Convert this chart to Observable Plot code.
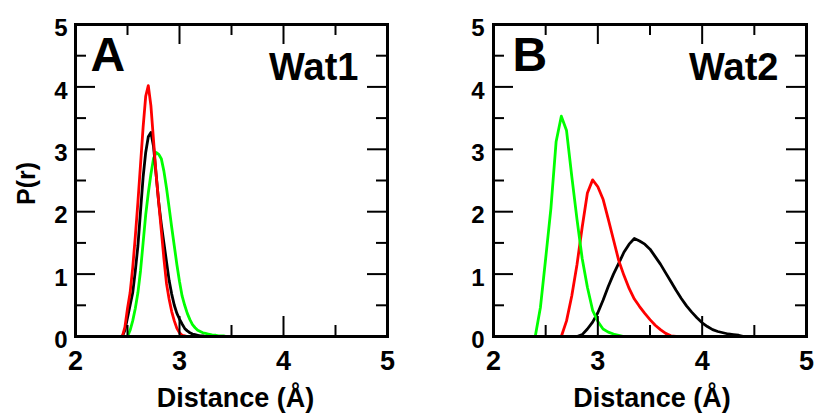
<!DOCTYPE html>
<html><head><meta charset="utf-8">
<script src="https://cdn.jsdelivr.net/npm/d3@7"></script>
<script src="https://cdn.jsdelivr.net/npm/@observablehq/plot@0.6"></script>
<style>
html,body{margin:0;padding:0;background:#fff;}
#wrap{display:flex;width:814px;height:413px;overflow:hidden;}
svg{display:block}
</style></head><body><div id="wrap"></div>
<script>
// Tick values
const xTicks = [2, 3, 4, 5];
const xMinor = [2.5, 3.5, 4.5];
const yTicks = [0, 1, 2, 3, 4, 5];
const yMinor = [0.5, 1.5, 2.5, 3.5, 4.5];

// Panel A (Wat1) distance grid and P(r) values
const distA = [2.450, 2.475, 2.500, 2.525, 2.550, 2.575, 2.600, 2.625, 2.650, 2.675,
  2.700, 2.725, 2.750, 2.775, 2.800, 2.825, 2.850, 2.875, 2.900, 2.925,
  2.950, 2.975, 3.000, 3.025, 3.050, 3.075, 3.100, 3.125, 3.150, 3.175,
  3.200, 3.225, 3.250, 3.275, 3.300, 3.325, 3.350, 3.375, 3.400, 3.425, 3.450];
const redA = [0, 0.15, 0.45, 0.7, 1.1, 1.6, 2.15, 2.75, 3.35, 3.85,
  4.02, 3.7, 3.15, 2.6, 2.15, 1.7, 1.25, 0.85, 0.6, 0.4,
  0.25, 0.13, 0.06, 0.02, 0.01, 0, null, null, null, null,
  null, null, null, null, null, null, null, null, null, null, null];
const blackA = [0, 0.1, 0.3, 0.5, 0.7, 1.05, 1.45, 2.0, 2.55, 2.95,
  3.2, 3.27, 3.05, 2.6, 2.15, 1.8, 1.5, 1.2, 0.9, 0.68,
  0.5, 0.37, 0.28, 0.2, 0.13, 0.09, 0.06, 0.04, 0.03, 0.02,
  0.01, 0.01, 0, null, null, null, null, null, null, null, null];
const greenA = [null, null, 0, 0.1, 0.25, 0.45, 0.7, 1.05, 1.5, 1.95,
  2.3, 2.6, 2.85, 2.95, 2.92, 2.85, 2.65, 2.38, 2.07, 1.75,
  1.45, 1.15, 0.88, 0.65, 0.5, 0.37, 0.27, 0.19, 0.14, 0.1,
  0.08, 0.06, 0.05, 0.04, 0.03, 0.02, 0.02, 0.01, 0.01, 0.01, 0];

// Panel B (Wat2) distance grid and P(r) values
const distB = [2.35, 2.40, 2.45, 2.50, 2.55, 2.60, 2.65, 2.70, 2.75, 2.80,
  2.85, 2.90, 2.95, 3.00, 3.05, 3.10, 3.15, 3.20, 3.25, 3.30,
  3.35, 3.40, 3.45, 3.50, 3.55, 3.60, 3.65, 3.70, 3.75, 3.80,
  3.85, 3.90, 3.95, 4.00, 4.05, 4.10, 4.15, 4.20, 4.25, 4.30, 4.35, 4.40];
const greenB = [null, 0, 0.47, 1.25, 2.05, 3.12, 3.53, 3.3, 2.57, 1.88,
  1.25, 0.79, 0.42, 0.24, 0.12, 0.07, 0.04, 0.02, 0, null,
  null, null, null, null, null, null, null, null, null, null,
  null, null, null, null, null, null, null, null, null, null, null, null];
const redB = [null, null, null, null, null, null, 0, 0.25, 0.65, 1.15,
  1.75, 2.3, 2.51, 2.4, 2.2, 1.88, 1.55, 1.22, 0.98, 0.77,
  0.6, 0.48, 0.37, 0.27, 0.18, 0.11, 0.05, 0.01, 0, null,
  null, null, null, null, null, null, null, null, null, null, null, null];
const blackB = [null, null, null, null, null, null, null, null, null, 0,
  0.03, 0.12, 0.23, 0.38, 0.58, 0.8, 1.0, 1.17, 1.35, 1.48,
  1.57, 1.53, 1.48, 1.4, 1.28, 1.16, 1.02, 0.88, 0.74, 0.61,
  0.49, 0.39, 0.3, 0.22, 0.16, 0.11, 0.08, 0.06, 0.04, 0.03, 0.02, 0];

const FONT = "'Liberation Sans', Arial, Helvetica, sans-serif";
const W = 407, H = 413, MT = 24, MB = 77;
const MAJOR = 20, MINOR = 11;

function panel({dist, series, letter, letterDx, title, titleDx, marginLeft, marginRight, yPad, ylabel, xlabelDx}) {
  const plotW = W - marginLeft - marginRight;
  const plotH = H - MT - MB;
  const marks = [];
  for (const s of series) {
    const data = dist.map((d, i) => ({x: d, y: s.values[i]})).filter(d => d.y != null);
    marks.push(Plot.line(data, {x: "x", y: "y", stroke: s.color, strokeWidth: 2.8}));
  }
  // inward ticks on all four sides
  const tk = {stroke: "black", strokeWidth: 2};
  for (const [vals, len] of [[xTicks, MAJOR], [xMinor, MINOR]]) {
    marks.push(Plot.tickX(vals, {x: d => d, insetTop: plotH - len, ...tk}));
    marks.push(Plot.tickX(vals, {x: d => d, insetBottom: plotH - len, ...tk}));
  }
  for (const [vals, len] of [[yTicks, MAJOR], [yMinor, MINOR]]) {
    marks.push(Plot.tickY(vals, {y: d => d, insetRight: plotW - len, ...tk}));
    marks.push(Plot.tickY(vals, {y: d => d, insetLeft: plotW - len, ...tk}));
  }
  marks.push(Plot.axisX(xTicks, {anchor: "bottom", tickSize: 0, tickPadding: 14, label: null, tickFormat: d3.format("d"), fontSize: 27, fontWeight: "bold", fill: "black"}));
  marks.push(Plot.axisY(yTicks, {anchor: "left", tickSize: 0, tickPadding: yPad, label: null, tickFormat: d3.format("d"), fontSize: 24, fontWeight: "bold", dy: 4, fill: "black"}));
  marks.push(Plot.frame({stroke: "black", strokeWidth: 3}));
  marks.push(Plot.text([letter], {frameAnchor: "top-left", textAnchor: "start", lineAnchor: "top", dx: letterDx, dy: 12, fontSize: 48, fontWeight: "bold", fill: "black"}));
  marks.push(Plot.text([title], {frameAnchor: "top-right", textAnchor: "end", lineAnchor: "top", dx: titleDx, dy: 29, fontSize: 38, fontWeight: "bold", fill: "black"}));
  marks.push(Plot.text(["Distance (Å)"], {frameAnchor: "bottom", textAnchor: "middle", lineAnchor: "top", dx: xlabelDx, dy: 51, fontSize: 27, fontWeight: "bold", fill: "black"}));
  if (ylabel) {
    marks.push(Plot.text([ylabel], {frameAnchor: "left", textAnchor: "middle", lineAnchor: "middle", rotate: -90, dx: -49, dy: 3, fontSize: 25, fontWeight: "bold", fill: "black"}));
  }
  return Plot.plot({
    width: W, height: H,
    marginLeft, marginRight, marginTop: MT, marginBottom: MB,
    x: {domain: [2, 5]},
    y: {domain: [0, 5]},
    style: {fontFamily: FONT, color: "black", background: "white", overflow: "visible"},
    marks
  });
}

const wrap = document.getElementById("wrap");
wrap.appendChild(panel({
  dist: distA,
  series: [{values: greenA, color: "#00ff00"}, {values: blackA, color: "#000000"}, {values: redA, color: "#ff0000"}],
  letter: "A", letterDx: 15, title: "Wat1", titleDx: -29,
  marginLeft: 75, marginRight: 20, yPad: 8, ylabel: "P(r)", xlabelDx: 4
}));
wrap.appendChild(panel({
  dist: distB,
  series: [{values: blackB, color: "#000000"}, {values: redB, color: "#ff0000"}, {values: greenB, color: "#00ff00"}],
  letter: "B", letterDx: 19, title: "Wat2", titleDx: -28,
  marginLeft: 86, marginRight: 8, yPad: 9, ylabel: null, xlabelDx: 2
}));
</script></body></html>
